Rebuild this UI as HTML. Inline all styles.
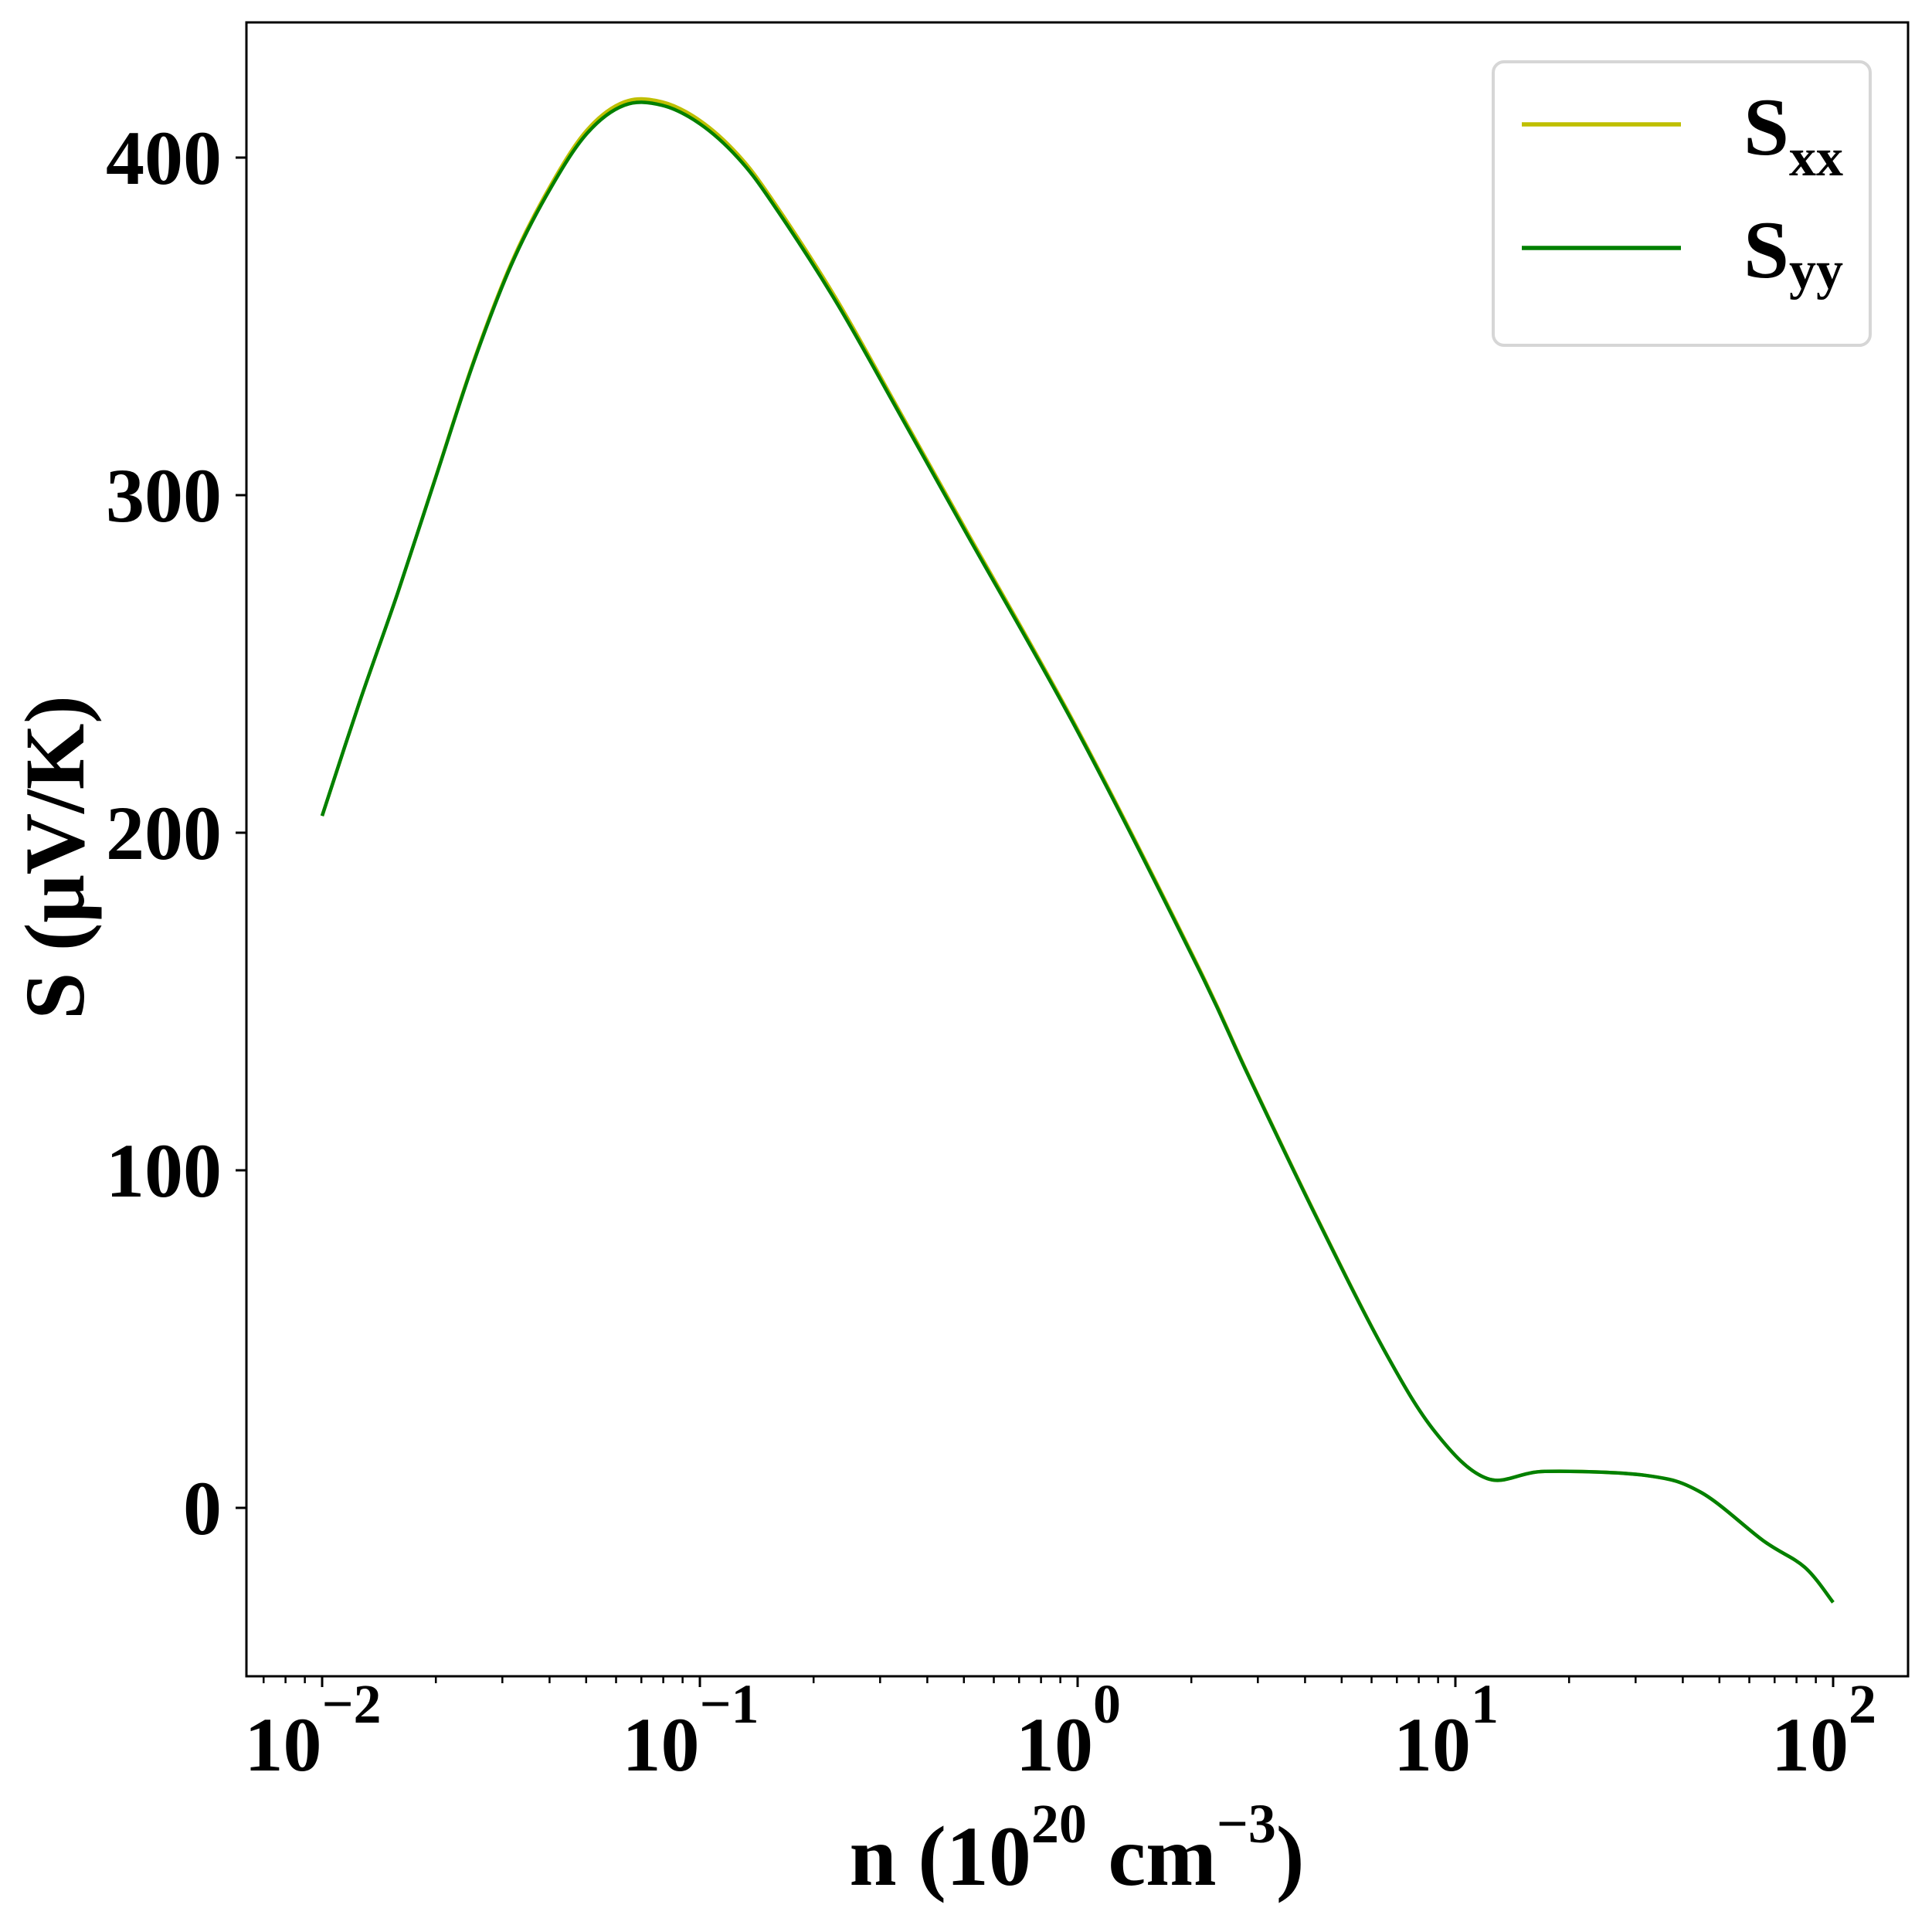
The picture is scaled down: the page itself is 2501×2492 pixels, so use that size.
<!DOCTYPE html>
<html><head><meta charset="utf-8"><style>
html,body{margin:0;padding:0;background:#fff}
svg{display:block}
text{font-family:"Liberation Serif",serif;font-weight:bold;fill:#000}
</style></head><body>
<svg id="chart" width="2501" height="2492" viewBox="0 0 2501 2492" xmlns="http://www.w3.org/2000/svg">
<rect x="0" y="0" width="2501" height="2492" fill="#fff"/>
<g id="lines"></g>
<rect x="319" y="29" width="2151" height="2141" fill="none" stroke="#000" stroke-width="3"/>
<g id="ticks"></g>
<text x="1394" y="2440" font-size="110" text-anchor="middle">n (10<tspan dy="-55" font-size="72">20</tspan><tspan dy="55"> cm</tspan><tspan dy="-55" font-size="72">−3</tspan><tspan dy="55">)</tspan></text>
<text transform="translate(108,1110) rotate(-90)" font-size="110" text-anchor="middle">S (μV/K)</text>
<g>
<rect x="1933" y="80" width="488" height="367" rx="14" fill="#fff" stroke="#d6d6d6" stroke-width="4"/>
<line x1="1970" y1="161" x2="2176" y2="161" stroke="#bfbf00" stroke-width="5.5"/>
<text x="2257" y="200" font-size="106">S<tspan font-size="70" dy="27">xx</tspan></text>
<line x1="1970" y1="321" x2="2176" y2="321" stroke="#008000" stroke-width="5.5"/>
<text x="2257" y="359" font-size="106">S<tspan font-size="70" dy="14">yy</tspan></text>
</g>
</svg>
<script>
const logN = [-2.0,-1.9,-1.8,-1.7,-1.6,-1.5,-1.4,-1.3,-1.2,-1.1,-1.0,-0.9,-0.808,-0.638,-0.466,-0.296,0.0,0.317,0.45,0.628,0.81,0.947,1.084,1.237,1.505,1.65,1.816,1.925,2.0];
const Syy = [205,239,271,305,339,368,390,407,415.5,415.5,410,400,386.5,357,323,289,230,160.4,128.5,87,47,22.4,8.7,10.8,9.6,4.6,-9.8,-17.6,-28];
const Sxx = [205,239,271,305.2,339.4,368.6,390.8,408,416.5,416.5,411,401,387.5,358,323.8,289.8,230.6,160.9,128.8,87.3,47.1,22.4,8.7,10.8,9.6,4.6,-9.8,-17.6,-28];
const yTicks = [0,100,200,300,400];
const xDecades = [-2,-1,0,1,2];

const NS = "http://www.w3.org/2000/svg";
function xs(l){ return 417 + (l + 2) * 489; }
function ys(v){ return 1952 - v * 4.37; }

function pathFor(arr){
  const p = logN.map((l,i)=>[xs(l), ys(arr[i])]);
  let d = "M" + p[0][0] + "," + p[0][1];
  for (let i=0;i<p.length-1;i++){
    const p0=p[Math.max(0,i-1)], p1=p[i], p2=p[i+1], p3=p[Math.min(p.length-1,i+2)];
    const c1x=p1[0]+(p2[0]-p0[0])/6, c1y=p1[1]+(p2[1]-p0[1])/6;
    const c2x=p2[0]-(p3[0]-p1[0])/6, c2y=p2[1]-(p3[1]-p1[1])/6;
    d += " C"+c1x+","+c1y+" "+c2x+","+c2y+" "+p2[0]+","+p2[1];
  }
  return d;
}
const lines = document.getElementById('lines');
[[Sxx,'#bfbf00','sxx-line'],[Syy,'#008000','syy-line']].forEach(s=>{
  const el = document.createElementNS(NS,'path');
  el.setAttribute('d', pathFor(s[0]));
  el.setAttribute('fill','none');
  el.setAttribute('stroke', s[1]);
  el.setAttribute('stroke-width','4.5');
  
  
  lines.appendChild(el);
});

const ticks = document.getElementById('ticks');
yTicks.forEach(v=>{
  const y = ys(v);
  const t = document.createElementNS(NS,'line');
  t.setAttribute('x1',305); t.setAttribute('x2',319); t.setAttribute('y1',y); t.setAttribute('y2',y);
  t.setAttribute('stroke','#000'); t.setAttribute('stroke-width','3');
  
  
  ticks.appendChild(t);
  const lb = document.createElementNS(NS,'text');
  lb.setAttribute('x',287); lb.setAttribute('y',y+34);
  lb.setAttribute('font-size','100'); lb.setAttribute('text-anchor','end');
  lb.textContent = String(v);
  
  
  ticks.appendChild(lb);
});
for (let d=-3; d<=2; d++){
  for (let k=2;k<=9;k++){
    const l = d + Math.log10(k);
    const x = xs(l);
    if (x < 320 || x > 2469) continue;
    const t = document.createElementNS(NS,'line');
    t.setAttribute('x1',x); t.setAttribute('x2',x); t.setAttribute('y1',2170); t.setAttribute('y2',2179);
    t.setAttribute('stroke','#000'); t.setAttribute('stroke-width','2.5');
    
    
    ticks.appendChild(t);
  }
}
xDecades.forEach(d=>{
  const x = xs(d);
  const t = document.createElementNS(NS,'line');
  t.setAttribute('x1',x); t.setAttribute('x2',x); t.setAttribute('y1',2170); t.setAttribute('y2',2184);
  t.setAttribute('stroke','#000'); t.setAttribute('stroke-width','3');
  
  
  ticks.appendChild(t);
  const lb = document.createElementNS(NS,'text');
  lb.setAttribute('x', x - 12); lb.setAttribute('y', 2292);
  lb.setAttribute('font-size','100'); lb.setAttribute('text-anchor','middle');
  lb.innerHTML = '10<tspan dy="-62" font-size="72">' + (d<0 ? '−'+(-d) : d) + '</tspan>';
  
  
  ticks.appendChild(lb);
});
</script>
</body></html>
